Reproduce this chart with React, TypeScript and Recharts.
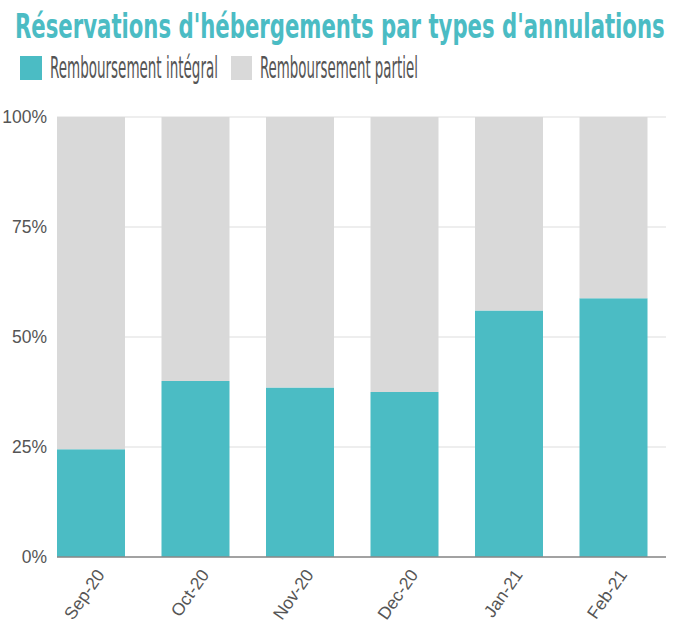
import React, { useLayoutEffect, useRef, useState } from 'react';
import { BarChart, Bar, XAxis, YAxis, CartesianGrid } from 'recharts';

const months = ['Sep-20', 'Oct-20', 'Nov-20', 'Dec-20', 'Jan-21', 'Feb-21'];
const fullRefund = [24.5, 40.0, 38.5, 37.5, 56.0, 58.8];
const partialRefund = [75.5, 60.0, 61.5, 62.5, 44.0, 41.2];
const yTicks = [0, 25, 50, 75, 100];
const seriesNames = ['Remboursement intégral', 'Remboursement partiel'];
const title = "Réservations d'hébergements par types d'annulations";

const TEAL = '#4bbcc4';
const GREY = '#d9d9d9';

const data = months.map((m, i) => ({
  month: m,
  integral: fullRefund[i],
  partiel: partialRefund[i],
}));

// squeezes a text horizontally so it spans `width` px
const FitText = ({ x, y, width, children, ...rest }: any) => {
  const ref = useRef<SVGTextElement>(null);
  const [sx, setSx] = useState(1);
  useLayoutEffect(() => {
    if (ref.current) {
      const w = ref.current.getComputedTextLength();
      if (w > 0) setSx(width / w);
    }
  }, [width]);
  return (
    <g transform={`translate(${x},${y}) scale(${sx},1)`}>
      <text ref={ref} x={0} y={0} {...rest}>
        {children}
      </text>
    </g>
  );
};

const MonthTick = (props: any) => {
  const { x, y, payload } = props;
  return (
    <g transform={`translate(${x + 10},${y + 7})`}>
      <text
        transform="rotate(-55)"
        textAnchor="end"
        fontFamily="Liberation Sans, Arial, sans-serif"
        fontSize={17.5}
        fill="#555"
        dy={5}
      >
        {payload.value}
      </text>
    </g>
  );
};

const Header = () => (
  <svg width={679} height={100} style={{ position: 'absolute', left: 0, top: 0 }}>
    <FitText
      x={15}
      y={38}
      width={650}
      fontFamily="'DejaVu Sans Condensed', 'DejaVu Sans', sans-serif"
      fontWeight="bold"
      fontSize={34}
      fill={TEAL}
    >
      {title}
    </FitText>
    <rect x={20} y={56} width={22} height={24} fill={TEAL} />
    <FitText
      x={50}
      y={78}
      width={168}
      fontFamily="'DejaVu Sans Condensed', sans-serif"
      fontSize={31}
      fill="#555"
    >
      {seriesNames[0]}
    </FitText>
    <rect x={231} y={56} width={21} height={24} fill={GREY} />
    <FitText
      x={260}
      y={78}
      width={158}
      fontFamily="'DejaVu Sans Condensed', sans-serif"
      fontSize={31}
      fill="#555"
    >
      {seriesNames[1]}
    </FitText>
  </svg>
);

export default function App() {
  return (
    <div style={{ position: 'absolute', left: 0, top: 0, width: 679, height: 630, background: '#fff' }}>
      <Header />
      <BarChart
        width={679}
        height={630}
        data={data}
        margin={{ top: 117, right: 13, left: 0, bottom: 0 }}
        barSize={68}
      >
        <CartesianGrid vertical={false} stroke="#dddddd" strokeWidth={1} />
        <XAxis
          dataKey="month"
          height={73}
          interval={0}
          tick={<MonthTick />}
          tickLine={false}
          axisLine={{ stroke: '#888', strokeWidth: 1.5 }}
          padding={{ left: -18, right: 0 }}
        />
        <YAxis
          width={57}
          domain={[0, 100]}
          ticks={yTicks}
          tickFormatter={(v) => `${v}%`}
          tick={{ fontFamily: 'Liberation Sans, Arial, sans-serif', fontSize: 17.5, fill: '#555' }}
          tickLine={false}
          axisLine={false}
          tickMargin={4}
        />
        <Bar dataKey="integral" name={seriesNames[0]} stackId="a" fill={TEAL} isAnimationActive={false} />
        <Bar dataKey="partiel" name={seriesNames[1]} stackId="a" fill={GREY} isAnimationActive={false} />
      </BarChart>
    </div>
  );
}
